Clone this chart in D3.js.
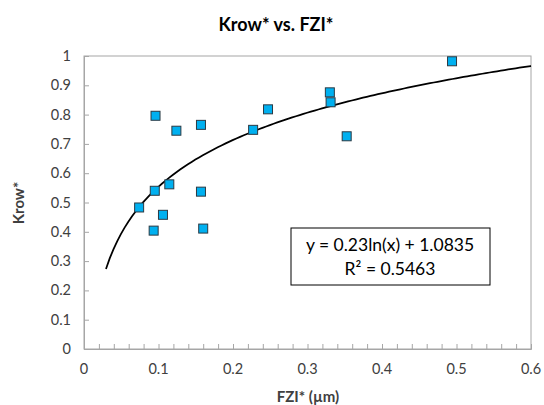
<!DOCTYPE html>
<html>
<head>
<meta charset="utf-8">
<script src="https://cdn.jsdelivr.net/npm/d3@7"></script>
<style>
  body { margin: 0; background: #fff; }
  text { font-family: Lato, "Open Sans", sans-serif; fill: #404040; }
</style>
</head>
<body>
<svg id="chart" width="544" height="405"></svg>
<script>
// FZI* (um) vs Krow*
const fzi  = [0.096, 0.124, 0.157, 0.227, 0.247, 0.095, 0.1145, 0.157, 0.074, 0.106, 0.0935, 0.160, 0.494, 0.330, 0.331, 0.3526];
const krow = [0.796, 0.745, 0.765, 0.748, 0.818, 0.540, 0.562,  0.537, 0.483, 0.458, 0.404,  0.411, 0.982, 0.876, 0.842, 0.726];

// log trendline y = a ln(x) + b
const trendA = 0.23, trendB = 1.0835;
const trendFrom = 0.0295, trendTo = 0.6;

const xTicks = [0, 0.1, 0.2, 0.3, 0.4, 0.5, 0.6];
const yTicks = [0, 0.1, 0.2, 0.3, 0.4, 0.5, 0.6, 0.7, 0.8, 0.9, 1];

const svg = d3.select('#chart');
const plotL = 84, plotR = 531, plotT = 56, plotB = 349;

const x = d3.scaleLinear().domain([0, 0.6]).range([plotL, plotR]);
const y = d3.scaleLinear().domain([0, 1]).range([plotB, plotT]);

// plot frame
svg.append('rect')
  .attr('x', plotL).attr('y', plotT)
  .attr('width', plotR - plotL).attr('height', plotB - plotT)
  .attr('fill', 'none').attr('stroke', '#a6a6a6').attr('stroke-width', 1);

// x axis, minor ticks every 0.02 pointing inward
const xAxis = svg.append('g').attr('transform', `translate(0,${plotB})`)
  .call(d3.axisBottom(x).tickValues(d3.range(0, 0.6001, 0.02)).tickSize(-5).tickFormat(''));
xAxis.select('.domain').attr('stroke', '#a6a6a6');
xAxis.selectAll('line').attr('stroke', '#a6a6a6');

svg.append('g').selectAll('text')
  .data(xTicks)
  .join('text')
  .attr('x', d => x(d)).attr('y', plotB + 25)
  .attr('text-anchor', 'middle')
  .attr('font-size', 14.5)
  .text(d => d);

// y axis
const yAxis = svg.append('g').attr('transform', `translate(${plotL},0)`)
  .call(d3.axisLeft(y).tickValues(yTicks).tickSize(-5).tickFormat(''));
yAxis.select('.domain').attr('stroke', '#a6a6a6');
yAxis.selectAll('line').attr('stroke', '#a6a6a6');

svg.append('g').selectAll('text')
  .data(yTicks)
  .join('text')
  .attr('x', plotL - 13).attr('y', d => y(d))
  .attr('dy', '0.35em')
  .attr('text-anchor', 'end')
  .attr('font-size', 14.5)
  .text(d => d);

// trendline
const trendPts = d3.range(trendFrom, trendTo + 1e-9, 0.005).concat([trendTo]);
svg.append('path')
  .datum(trendPts)
  .attr('fill', 'none')
  .attr('stroke', '#000')
  .attr('stroke-width', 1.75)
  .attr('d', d3.line().x(d => x(d)).y(d => y(trendA * Math.log(d) + trendB)));

// points
const size = 9;
svg.append('g').selectAll('rect')
  .data(fzi.map((d, i) => [d, krow[i]]))
  .join('rect')
  .attr('x', d => x(d[0]) - size / 2)
  .attr('y', d => y(d[1]) - size / 2)
  .attr('width', size).attr('height', size)
  .attr('fill', '#00b0f0')
  .attr('stroke', '#2b3a44')
  .attr('stroke-width', 1);

// equation box
svg.append('rect')
  .attr('x', 291).attr('y', 228).attr('width', 199).attr('height', 57)
  .attr('fill', '#fff').attr('stroke', '#000').attr('stroke-width', 1);
svg.append('text')
  .attr('x', 390).attr('y', 251)
  .attr('text-anchor', 'middle').attr('font-size', 17.5).style('fill', '#000')
  .text('y = 0.23ln(x) + 1.0835');
svg.append('text')
  .attr('x', 390).attr('y', 275)
  .attr('text-anchor', 'middle').attr('font-size', 17.5).style('fill', '#000')
  .text('R² = 0.5463');

// titles
svg.append('text')
  .attr('x', 276).attr('y', 31)
  .attr('text-anchor', 'middle').attr('font-size', 18).attr('font-weight', 'bold')
  .style('fill', '#000')
  .text('Krow* vs. FZI*');

svg.append('text')
  .attr('x', 308).attr('y', 402)
  .attr('text-anchor', 'middle').attr('font-size', 15).attr('font-weight', 'bold')
  .text('FZI* (µm)');

svg.append('text')
  .attr('transform', 'translate(24,203) rotate(-90)')
  .attr('text-anchor', 'middle').attr('font-size', 15).attr('font-weight', 'bold')
  .text('Krow*');
</script>
</body>
</html>
